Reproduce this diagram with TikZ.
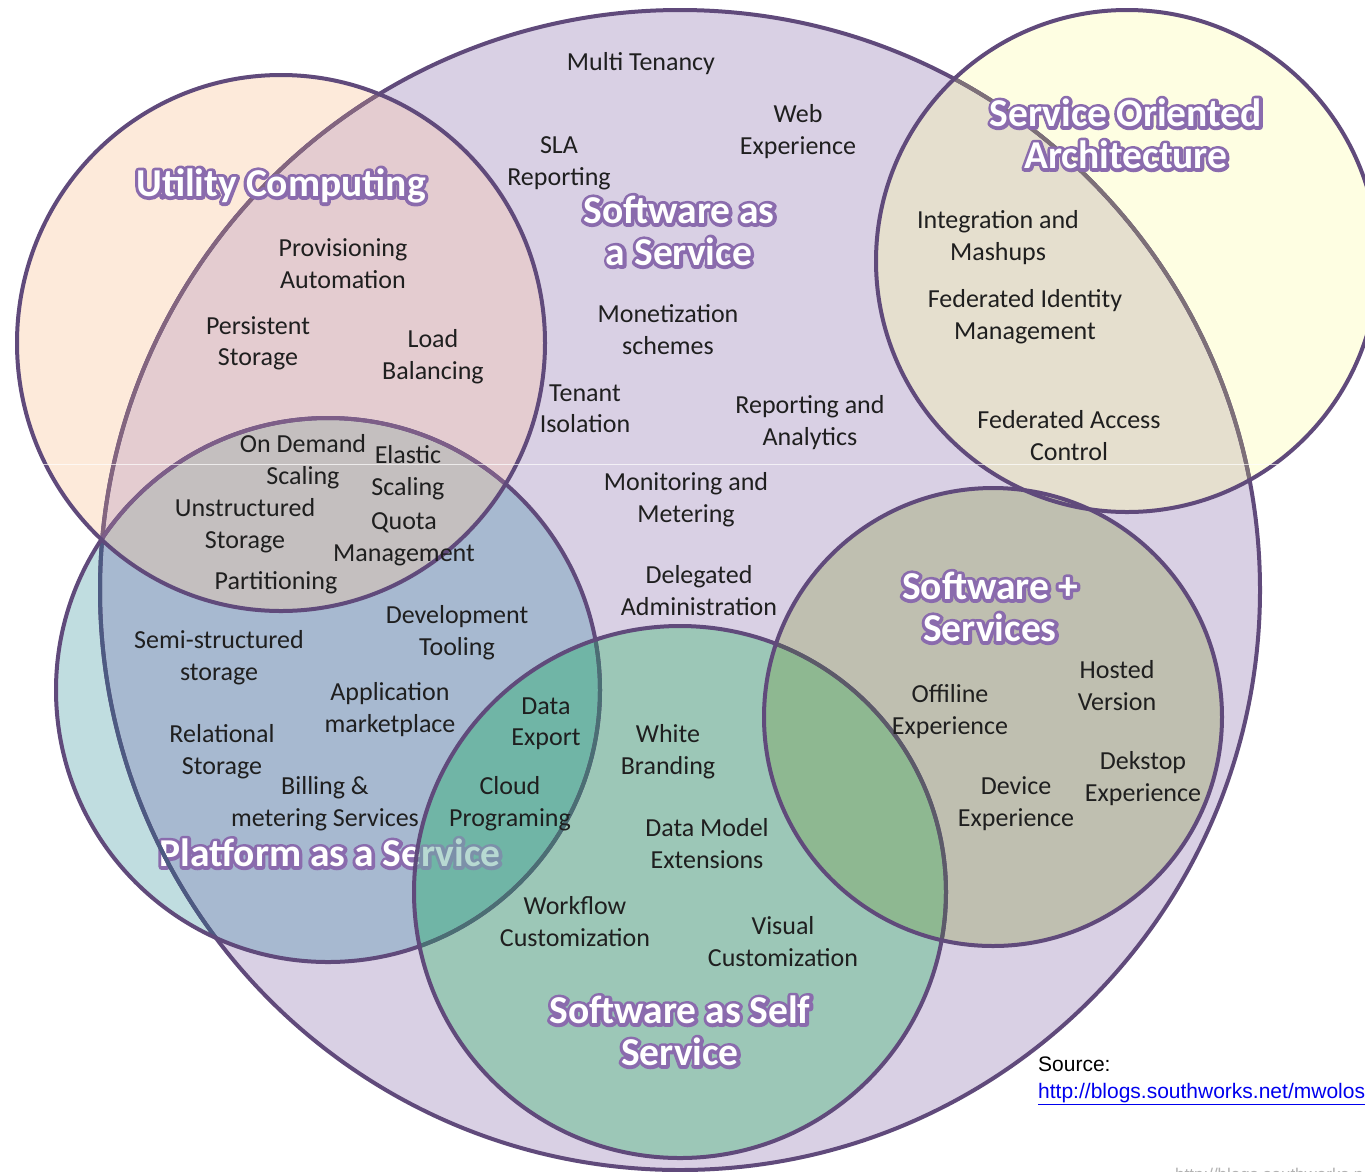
\documentclass[tikz,border=0pt]{standalone}
\usepackage{fontspec}
\setmainfont{Carlito}
\newfontfamily\arialf{Liberation Sans}
\definecolor{lineP}{HTML}{604A7B}
\definecolor{fB}{HTML}{D9D0E4}
\definecolor{fU}{HTML}{FDEADA}
\definecolor{fUB}{HTML}{E4CCD0}
\definecolor{fUPB}{HTML}{C4BFBF}
\definecolor{fP}{HTML}{C0DDE0}
\definecolor{fPB}{HTML}{A7B9D0}
\definecolor{fPG}{HTML}{70B5A6}
\definecolor{fG}{HTML}{9CC7B7}
\definecolor{fGS}{HTML}{8EB891}
\definecolor{fS}{HTML}{BFBFB0}
\definecolor{fO}{HTML}{FEFEE2}
\definecolor{fOB}{HTML}{E5DFCE}
\definecolor{mBU}{HTML}{83657F}
\definecolor{mBO}{HTML}{7D7078}
\definecolor{mBP}{HTML}{4D5A82}
\definecolor{mPU}{HTML}{7D5E88}
\definecolor{mPG}{HTML}{4B6E74}
\definecolor{mGS}{HTML}{5C5A69}
\definecolor{linkc}{HTML}{0000EE}
% one stroked copy (purple halo) under the white letters
\newcommand\glowtxt[1]{\rlap{\special{pdf:code q 1 Tr 6.5 w 1 j 1 J 0.54 0.42 0.68 RG}#1\special{pdf:code Q}}#1}
\tikzset{
  lbl/.style={align=center, inner sep=0pt, yshift=-2.5pt, font=\fontsize{26}{31.5}\selectfont, text=black!88},
  ttl/.style={align=center, inner sep=0pt, font=\fontsize{39.5}{42}\selectfont\bfseries, text=white},
  ring/.style={draw=lineP, line width=4pt},
}
\begin{document}
\begin{tikzpicture}[x=1pt,y=-1pt]
\useasboundingbox (0,0) rectangle (1365,1171);
\clip (0,0) rectangle (1365,1171);
\fill[white] (0,0) rectangle (1365,1171);
\coordinate (cB) at (680,590);
\coordinate (cU) at (281,343);
\coordinate (cP) at (328,690);
\coordinate (cG) at (680,892);
\coordinate (cS) at (993,717);
\coordinate (cO) at (1127,261);
% ---- fills
\fill[fP] (cP) circle[radius=272];
\fill[fU] (cU) ellipse[x radius=264, y radius=268];
\fill[fO] (cO) circle[radius=251];
\fill[fB] (cB) circle[radius=580];
\begin{scope}
  \clip (cB) circle[radius=580];
  \fill[fUB] (cU) ellipse[x radius=264, y radius=268];
  \fill[fOB] (cO) circle[radius=251];
  \fill[fPB] (cP) circle[radius=272];
  \fill[fS] (cS) circle[radius=229];
  \fill[fG] (cG) circle[radius=266];
  \begin{scope}
    \clip (cU) ellipse[x radius=264, y radius=268];
    \fill[fUPB] (cP) circle[radius=272];
  \end{scope}
  \begin{scope}
    \clip (cP) circle[radius=272];
    \fill[fPG] (cG) circle[radius=266];
  \end{scope}
  \begin{scope}
    \clip (cG) circle[radius=266];
    \fill[fGS] (cS) circle[radius=229];
  \end{scope}
\end{scope}
% ---- PaaS title (under the green circle)
\node[ttl] (tPaaS) at (330,853) {\glowtxt{Platform as a Service}};
\begin{scope}
  \clip (cP) circle[radius=272];
  \fill[fPG, opacity=0.5] (cG) circle[radius=266];
\end{scope}
% ---- outlines
\draw[ring] (cB) circle[radius=580];
\begin{scope}\clip (cU) ellipse[x radius=264, y radius=268]; \draw[ring, draw=mBU] (cB) circle[radius=580];\end{scope}
\begin{scope}\clip (cO) circle[radius=251]; \draw[ring, draw=mBO] (cB) circle[radius=580];\end{scope}
\begin{scope}\clip (cP) circle[radius=272]; \draw[ring, draw=mBP] (cB) circle[radius=580];\end{scope}
\draw[ring] (cP) circle[radius=272];
\begin{scope}\clip (cU) ellipse[x radius=264, y radius=268]; \draw[ring, draw=mPU] (cP) circle[radius=272];\end{scope}
\begin{scope}\clip (cG) circle[radius=266]; \draw[ring, draw=mPG] (cP) circle[radius=272];\end{scope}
\draw[ring] (cU) ellipse[x radius=264, y radius=268];
\draw[ring] (cG) circle[radius=266];
\begin{scope}\clip (cS) circle[radius=229]; \draw[ring, draw=mGS] (cG) circle[radius=266];\end{scope}
\draw[ring] (cS) circle[radius=229];
\draw[ring] (cO) circle[radius=251];
% ---- SaaS
\node[lbl] (mt) at (641,61) {Multi Tenancy};
\node[lbl] (sla) at (559,161) {SLA\\Reporting};
\node[lbl] (web) at (798,129) {Web\\Experience};
\node[ttl] (tSaaS) at (679,231) {\glowtxt{Software as}\\\glowtxt{a Service}};
\node[lbl] (mon) at (668,327) {Monetization\\schemes};
\node[lbl] (ten) at (585,406) {Tenant\\Isolation};
\node[lbl] (rep) at (810,420) {Reporting and\\Analytics};
\node[lbl] (mtr) at (686,497) {Monitoring and\\Metering};
\node[lbl] (del) at (699,588) {Delegated\\Administration};
% ---- Utility
\node[ttl] (tUC) at (281,186) {\glowtxt{Utility Computing}};
\node[lbl] (prov) at (343,261) {Provisioning\\Automation};
\node[lbl] (pers) at (258,341) {Persistent\\Storage};
\node[lbl] (load) at (433,354) {Load\\Balancing};
\node[lbl] (ond) at (303,459) {On Demand\\Scaling};
\node[lbl] (ela) at (408,470) {Elastic\\Scaling};
\node[lbl] (uns) at (245,523) {Unstructured\\Storage};
\node[lbl] (quo) at (404,537) {Quota\\Management};
\node[lbl] (part) at (276,580) {Partitioning};
% ---- PaaS
\node[lbl] (semi) at (219,655) {Semi-structured\\storage};
\node[lbl] (devt) at (457,630) {Development\\Tooling};
\node[lbl] (app) at (390,707) {Application\\marketplace};
\node[lbl] (rel) at (222,749) {Relational\\Storage};
\node[lbl] (bill) at (325,801) {Billing \&\\metering Services};
\node[lbl] (dexp) at (546,721) {Data\\Export};
\node[lbl] (cloud) at (510,801) {Cloud\\Programing};
% ---- Self service
\node[lbl] (wb) at (668,749) {White\\Branding};
\node[lbl] (dmod) at (707,841) {Data Model\\Extensions};
\node[lbl] (wf) at (575,919) {Workflow\\Customization};
\node[lbl] (vis) at (783,939) {Visual\\Customization};
\node[ttl] (tSSS) at (680,1031) {\glowtxt{Software as Self}\\\glowtxt{Service}};
% ---- SOA
\node[ttl] (tSOA) at (1126,134) {\glowtxt{Service Oriented}\\\glowtxt{Architecture}};
\node[lbl] (integ) at (998,235) {Integration and\\Mashups};
\node[lbl] (fid) at (1025,314) {Federated Identity\\Management};
\node[lbl] (fac) at (1069,433) {Federated Access\\Control};
% ---- S+S
\node[ttl] (tSS) at (990,607) {\glowtxt{Software +}\\\glowtxt{Services}};
\node[lbl] (host) at (1117,683) {Hosted\\Version};
\node[lbl] (off) at (950,709) {Offiline\\Experience};
\node[lbl] (desk) at (1143,776) {Dekstop\\Experience};
\node[lbl] (devx) at (1016,801) {Device\\Experience};
% ---- source
\node[anchor=base west, inner sep=0pt, font=\arialf\fontsize{21}{24}\selectfont] (src) at (1038,1071) {Source:};
\node[anchor=base west, inner sep=0pt, font=\arialf\fontsize{21}{24}\selectfont, text=linkc] (url) at (1038,1098) {\underline{http://blogs.southworks.net/mwoloski/}};
\node[anchor=base west, inner sep=0pt, font=\arialf\fontsize{17}{20}\selectfont, text=black!30] (wm) at (1175,1180) {http://blogs.southworks.net};
% seam
\draw[white, opacity=0.7, line width=1pt] (0,464) -- (1365,464);
\end{tikzpicture}
\end{document}
